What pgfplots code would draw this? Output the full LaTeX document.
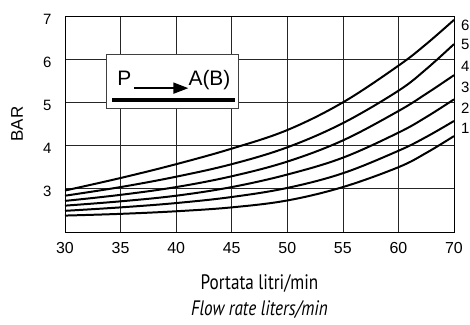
\documentclass[border=0pt]{standalone}
\usepackage{fontspec}
\setmainfont{Liberation Sans}
\newfontfamily\condfont[FakeStretch=0.82]{PT Sans}
\usepackage{pgfplots}
\usepackage{pgfplotstable}
\pgfplotsset{compat=1.18}
\usetikzlibrary{arrows.meta}

% pressure drop curves; x = 65 is the column labelled 70
\pgfplotstableread{
x    c1   c2   c3   c4   c5   c6
30   2.38 2.49 2.61 2.72 2.84 2.96
35   2.42 2.57 2.71 2.86 3.04 3.25
40   2.48 2.67 2.84 3.04 3.28 3.57
45   2.57 2.81 3.04 3.29 3.57 3.93
50   2.73 3.02 3.33 3.63 3.96 4.36
55   3.04 3.36 3.72 4.12 4.52 5.00
60   3.50 3.88 4.30 4.80 5.27 5.85
62.5 3.83 4.20 4.66 5.20 5.77 6.35
65   4.22 4.57 5.07 5.63 6.35 6.91
}\curves

\begin{document}
\begin{tikzpicture}
\useasboundingbox (0,0) rectangle (470bp,325bp);
\begin{axis}[
  at={(65bp,93bp)}, anchor=south west,
  scale only axis, width=389bp, height=216bp,
  xmin=30, xmax=65, ymin=2, ymax=7,
  xtick={30,35,...,65},
  xticklabels={30,35,40,45,50,55,60,70},
  ytick={3,4,5,6,7},
  tick style={draw=none},
  grid=major,
  grid style={black!85, line width=0.7pt},
  axis line style={black, line width=0.8pt},
  /pgf/number format/assume math mode=true,
  xticklabel style={font=\fontsize{16}{18}\selectfont, yshift=-7bp},
  yticklabel style={font=\fontsize{15}{18}\selectfont, xshift=-10bp, yshift=-3bp},
  ylabel={BAR},
  ylabel style={font=\fontsize{17}{20}\selectfont, at={(axis description cs:-0.123,0.5)}, anchor=center},
  xlabel={Portata litri/min\\\textit{Flow rate liters/min}},
  xlabel style={align=center, inner sep=2bp, font=\condfont\fontsize{21}{27}\selectfont, at={(axis description cs:0.5,-0.185)}, anchor=north},
  clip=false,
]
\foreach \c in {c1,c2,c3,c4,c5,c6} {
  \addplot[black, line width=2pt, smooth, tension=0.6] table[x=x, y=\c] {\curves};
}

% curve numbers
\node[anchor=west, inner sep=0pt, xshift=7bp, font=\fontsize{15}{18}\selectfont] at (axis cs:65,6.78) {6};
\node[anchor=west, inner sep=0pt, xshift=7bp, font=\fontsize{15}{18}\selectfont] at (axis cs:65,6.34) {5};
\node[anchor=west, inner sep=0pt, xshift=7bp, font=\fontsize{15}{18}\selectfont] at (axis cs:65,5.84) {4};
\node[anchor=west, inner sep=0pt, xshift=7bp, font=\fontsize{15}{18}\selectfont] at (axis cs:65,5.35) {3};
\node[anchor=west, inner sep=0pt, xshift=7bp, font=\fontsize{15}{18}\selectfont] at (axis cs:65,4.87) {2};
\node[anchor=west, inner sep=0pt, xshift=7bp, font=\fontsize{15}{18}\selectfont] at (axis cs:65,4.41) {1};

% flow direction box
\draw[black!75, line width=0.8pt, fill=white] (axis cs:33.7,6.10) rectangle (axis cs:45.6,4.85);
\node[anchor=base west, inner sep=0pt, font=\fontsize{21}{24}\selectfont] at (axis cs:34.7,5.38) {P};
\draw[-{Triangle[length=15bp,width=11bp]}, line width=1.7bp] (axis cs:36.2,5.33) -- (axis cs:41.1,5.33);
\node[anchor=base west, inner sep=0pt, font=\fontsize{21}{24}\selectfont] at (axis cs:41.1,5.38) {A(B)};
\draw[line width=4bp] (axis cs:34.23,5.06) -- (axis cs:45.32,5.06);
\end{axis}
\end{tikzpicture}
\end{document}
